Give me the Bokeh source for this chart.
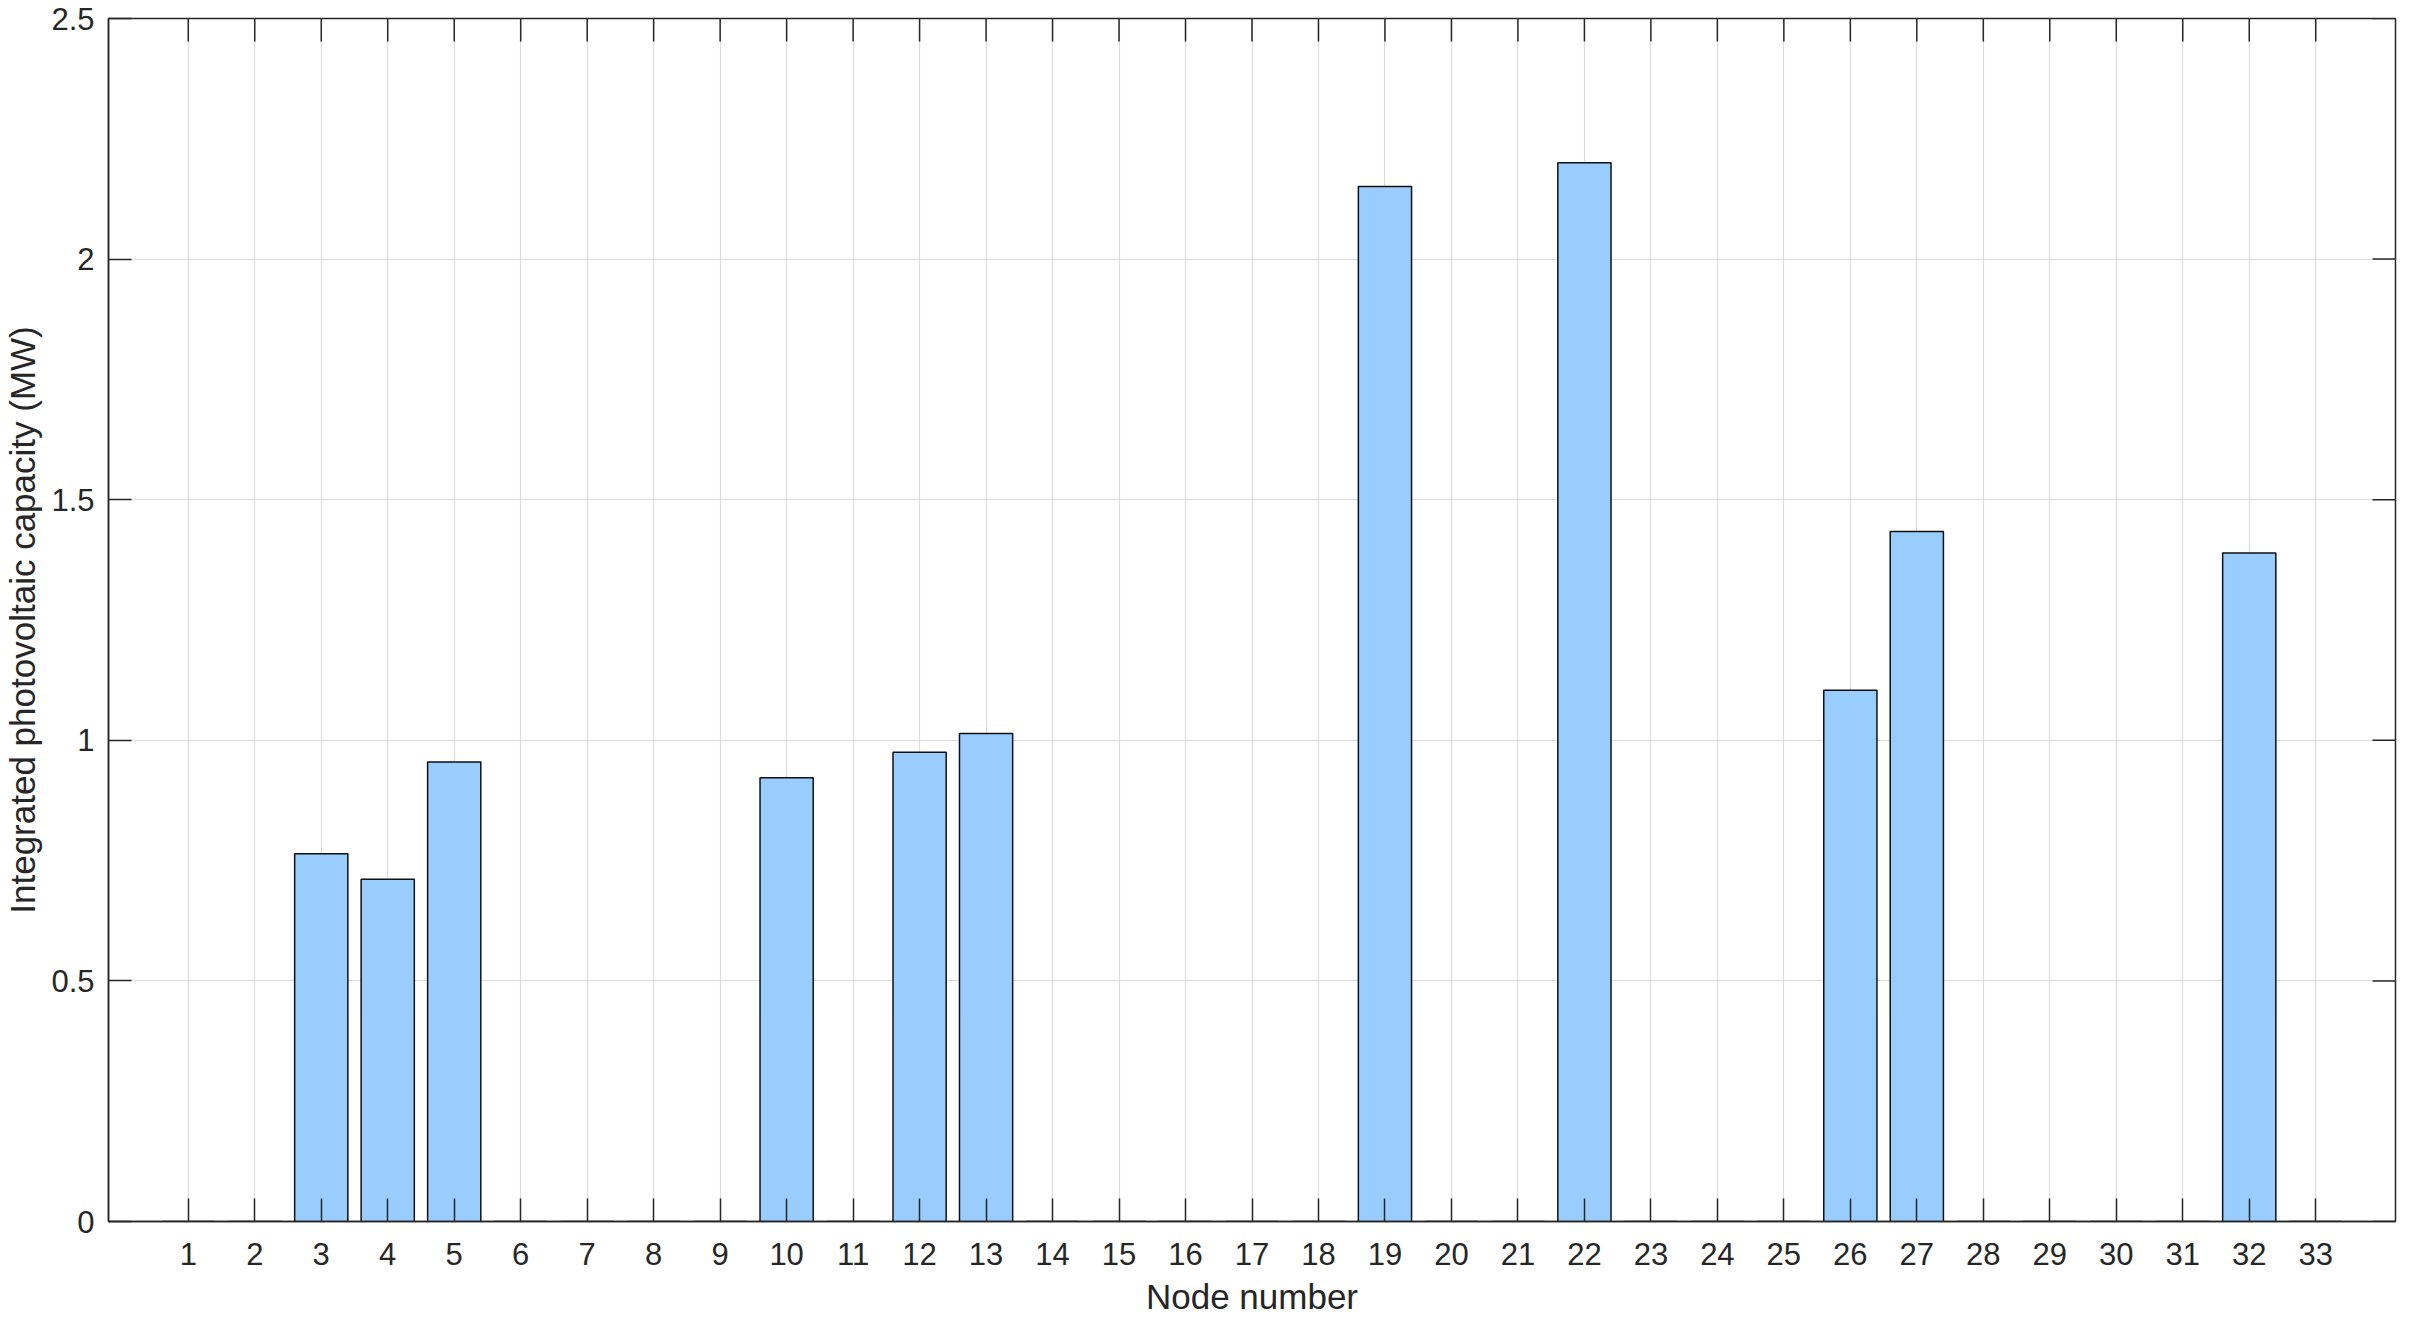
import math
from bokeh.plotting import figure
from bokeh.models import Range1d, FixedTicker
from bokeh.embed import file_html
from bokeh.resources import INLINE

# ---- data ----
nodes = list(range(1, 34))
capacity = [0, 0, 0.764, 0.711, 0.955, 0, 0, 0, 0, 0.922, 0, 0.975, 1.014,
            0, 0, 0, 0, 0, 2.151, 0, 0, 2.200, 0, 0, 0, 1.104, 1.434, 0, 0,
            0, 0, 1.389, 0]
y_ticks = [0, 0.5, 1, 1.5, 2, 2.5]
y_tick_labels = ["0", "0.5", "1", "1.5", "2", "2.5"]
x_label = "Node number"
y_label = "Integrated photovoltaic capacity (MW)"

FONT = "Liberation Sans"
TXT = "#262626"
X0, X1 = -0.2, 34.2
Y0, Y1 = 0, 2.5

p = figure(width=2400, height=1318, output_backend="svg", toolbar_location=None,
           x_range=Range1d(X0, X1), y_range=Range1d(Y0, Y1),
           min_border_left=104, min_border_right=5, min_border_top=18,
           min_border_bottom=96, x_axis_label=x_label, y_axis_label=y_label)

p.outline_line_color = TXT
p.outline_line_width = 1.5
p.background_fill_color = "white"
p.border_fill_color = "white"

# grids
p.xgrid.ticker = FixedTicker(ticks=nodes)
p.ygrid.ticker = FixedTicker(ticks=y_ticks)
for g in (p.xgrid, p.ygrid):
    g.grid_line_color = "#dcdcdc"
    g.grid_line_width = 1.2

p.vbar(x=nodes, top=capacity, width=0.8, fill_color="#99ccff",
       line_color="#111111", line_width=1.5)

# inward ticks on the top and right edges of the box (clipped by the frame)
p.scatter(x=nodes, y=[Y1] * len(nodes), marker="dash", size=46,
          angle=math.pi / 2, line_color=TXT, line_width=1.5)
p.scatter(x=[X1] * len(y_ticks), y=y_ticks, marker="dash", size=46,
          line_color=TXT, line_width=1.5)

overrides = {float(t): l for t, l in zip(y_ticks, y_tick_labels)}

def style(ax):
    ax.axis_line_color = TXT
    ax.axis_line_width = 1.5
    ax.major_tick_line_color = TXT
    ax.major_tick_line_width = 1.5
    ax.major_tick_in = 23
    ax.major_tick_out = 0
    ax.minor_tick_line_color = None
    ax.major_label_text_font = FONT
    ax.major_label_text_color = TXT
    ax.major_label_text_font_size = "31px"
    ax.axis_label_text_font = FONT
    ax.axis_label_text_color = TXT
    ax.axis_label_text_font_style = "normal"
    ax.axis_label_text_font_size = "35px"

xa = p.xaxis[0]
xa.ticker = FixedTicker(ticks=nodes)
style(xa)
xa.major_label_standoff = 21
xa.axis_label_standoff = 9

ya = p.yaxis[0]
ya.ticker = FixedTicker(ticks=y_ticks)
ya.major_label_overrides = overrides
style(ya)
ya.major_label_standoff = 14
ya.axis_label_standoff = 6

open("out.html", "w").write(file_html(p, INLINE))
